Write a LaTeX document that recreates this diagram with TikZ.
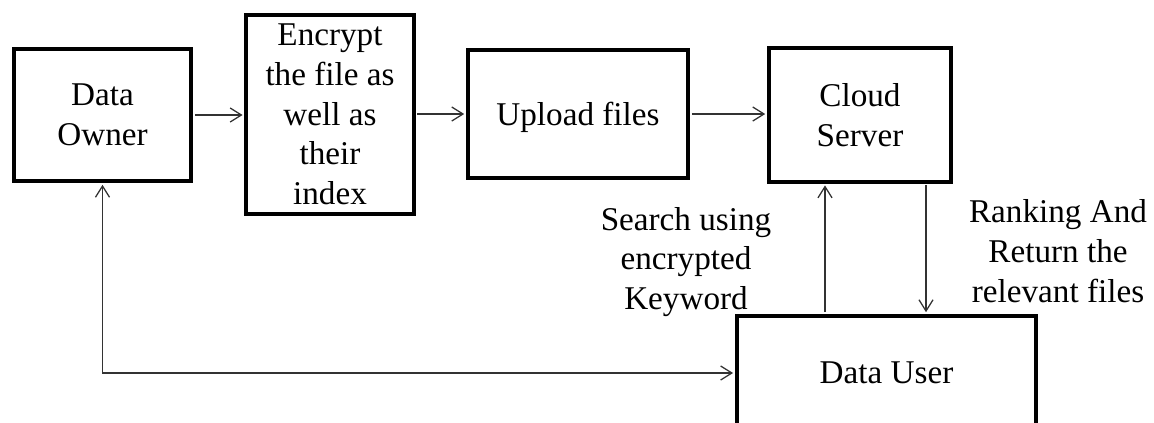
\documentclass[tikz,border=0pt]{standalone}
\usepackage{fontspec}
\setmainfont{Liberation Serif}
\usetikzlibrary{arrows.meta}

\begin{document}
\begin{tikzpicture}[x = .025cm, y = -.025cm,
	every node/.style = {font = \fontsize{23.6}{28.2}\selectfont, align = center, inner sep = 0pt},
	block/.style = {draw, line width = 2.8pt},
	link/.style = {draw = black!80, line width = .9pt, shorten > = 1.3pt, shorten < = 1.3pt,
		-{Straight Barb[length = 8pt, width = 10pt]}}]
		\useasboundingbox (0,0) rectangle (1154,422);

		\node (owner) at (102.5,115) [block, minimum width = 4.43cm, minimum height = 3.3cm] {Data\\Owner};
		\node (encrypt) at (330,114.5) [block, minimum width = 4.18cm, minimum height = 4.98cm] {Encrypt\\the file as\\well as\\their\\index};
		\node (upload) at (578,114) [block, minimum width = 5.5cm, minimum height = 3.2cm, text depth = 0pt] {Upload files};
		\node (cloud) at (860,115) [block, minimum width = 4.55cm, minimum height = 3.33cm] {Cloud\\Server};
		\node (user) at (886.5,373) [block, minimum width = 7.48cm, minimum height = 2.85cm] {Data User};

		\node (search) at (686,262) {Search using\\encrypted\\Keyword};
		\node (rank) at (1058,251) {Ranking And\\Return the\\relevant files};

		\draw [link] (owner.east) -- (owner.east -| encrypt.west);
		\draw [link] (encrypt.east |- upload.west) -- (upload.west);
		\draw [link] (upload.east) -- (upload.east -| cloud.west);

		\coordinate (query) at (825,0);
		\coordinate (reply) at (926,0);
		\draw [link] (query |- user.north) -- (query |- cloud.south);
		\draw [link] (reply |- cloud.south) -- (reply |- user.north);

		\draw [link, {Straight Barb[length = 8pt, width = 10pt]}-{Straight Barb[length = 8pt, width = 10pt]}] (owner.south) |- (user.west);
		\end{tikzpicture}
\end{document}
